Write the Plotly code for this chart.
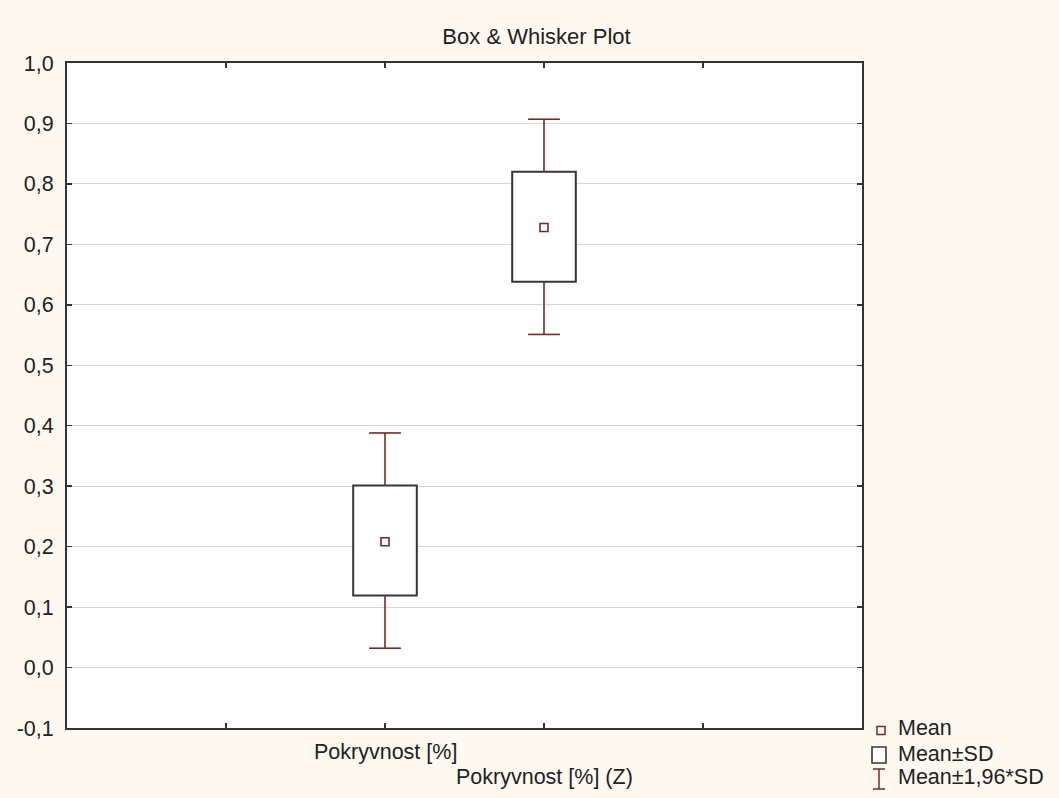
import plotly.graph_objects as go

# ---- data ----
categories = ["Pokryvnost [%]", "Pokryvnost [%] (Z)"]
mean_vals = [0.208, 0.728]
sd_low = [0.119, 0.638]
sd_high = [0.301, 0.820]
ci_low = [0.032, 0.551]
ci_high = [0.388, 0.907]
y_tick_vals = [-0.1, 0.0, 0.1, 0.2, 0.3, 0.4, 0.5, 0.6, 0.7, 0.8, 0.9, 1.0]
y_tick_text = ["-0,1", "0,0", "0,1", "0,2", "0,3", "0,4", "0,5", "0,6", "0,7", "0,8", "0,9", "1,0"]
x_tick_vals = [0, 1, 2, 3]
legend_labels = ["Mean", "Mean\u00b1SD", "Mean\u00b11,96*SD"]

# ---- style ----
W, H = 1059, 798
L, R, T, B = 67, 197, 63, 70
PAPER = "#fdf9f0"
MAROON = "#7d2626"
BOXC = "#363636"
FRAME = "#333333"
TXT = "#222222"
FONT = "Liberation Sans, Arial, sans-serif"
FS = 21.5
BOX_W = 0.4
CAP = 0.1

xpos = [i + 1 for i in range(len(categories))]

fig = go.Figure()

# boxes (mean ± SD)
fig.add_trace(go.Bar(
    x=xpos, y=[h - l for h, l in zip(sd_high, sd_low)], base=sd_low,
    width=BOX_W, marker=dict(color="white", line=dict(color=BOXC, width=2)),
    showlegend=False, hoverinfo="skip"))

# whiskers (mean ± 1.96 SD)
wx, wy = [], []
for x, sl, sh, cl, ch in zip(xpos, sd_low, sd_high, ci_low, ci_high):
    wx += [x, x, None, x, x, None, x - CAP, x + CAP, None, x - CAP, x + CAP, None]
    wy += [sh, ch, None, cl, sl, None, ch, ch, None, cl, cl, None]
fig.add_trace(go.Scatter(x=wx, y=wy, mode="lines",
                         line=dict(color=MAROON, width=1.6),
                         showlegend=False, hoverinfo="skip"))

# means
fig.add_trace(go.Scatter(x=xpos, y=mean_vals, mode="markers",
                         marker=dict(symbol="square-open", size=8, color=MAROON,
                                     line=dict(color=MAROON, width=1.6)),
                         showlegend=False))

# category labels (staggered)
annotations = []
label_y_px = [752, 777]
for i, (x, lab) in enumerate(zip(xpos, categories)):
    annotations.append(dict(
        x=x, xref="x", y=(H - B - label_y_px[i % 2]) / (H - T - B), yref="paper",
        text=lab, showarrow=False, xanchor="center", yanchor="middle",
        font=dict(family=FONT, size=FS, color=TXT)))

# custom legend
def px(xp):
    return (xp - L) / (W - L - R)

def py(yp):
    return (H - B - yp) / (H - T - B)

shapes = []
# Mean: small square
shapes.append(dict(type="rect", xref="paper", yref="paper",
                   x0=px(877), x1=px(885), y0=py(734.5), y1=py(726.5),
                   line=dict(color=MAROON, width=1.5), fillcolor="white"))
# Mean±SD: bigger box
shapes.append(dict(type="rect", xref="paper", yref="paper",
                   x0=px(872), x1=px(886), y0=py(763), y1=py(747),
                   line=dict(color=BOXC, width=1.6), fillcolor="white"))
# Mean±1,96*SD: I-beam
shapes.append(dict(type="line", xref="paper", yref="paper",
                   x0=px(879), x1=px(879), y0=py(769), y1=py(789),
                   line=dict(color=MAROON, width=1.5)))
shapes.append(dict(type="line", xref="paper", yref="paper",
                   x0=px(873), x1=px(885), y0=py(769), y1=py(769),
                   line=dict(color=MAROON, width=1.5)))
shapes.append(dict(type="line", xref="paper", yref="paper",
                   x0=px(873), x1=px(885), y0=py(789), y1=py(789),
                   line=dict(color=MAROON, width=1.5)))

leg_y_px = [728, 754, 777]
for lab, yy in zip(legend_labels, leg_y_px):
    annotations.append(dict(x=px(896), xref="paper", y=py(yy), yref="paper",
                            text=lab, showarrow=False, xanchor="left", yanchor="middle",
                            font=dict(family=FONT, size=FS, color=TXT)))

fig.update_layout(
    width=W, height=H,
    margin=dict(l=L, r=R, t=T, b=B, pad=0),
    paper_bgcolor=PAPER, plot_bgcolor="white",
    font=dict(family=FONT, size=FS, color=TXT),
    title=dict(text="Box & Whisker Plot", xref="container", yref="container",
               x=536.5 / W, xanchor="center", y=1 - 36 / H, yanchor="middle",
               font=dict(family=FONT, size=22, color=TXT)),
    showlegend=False,
    bargap=0,
    annotations=annotations,
    shapes=shapes,
    xaxis=dict(range=[-1, 4], tickvals=x_tick_vals, showticklabels=False,
               ticks="inside", ticklen=5, tickwidth=1.5, tickcolor=FRAME,
               showline=True, linecolor=FRAME, linewidth=2, mirror="ticks",
               showgrid=False, zeroline=False, fixedrange=True),
    yaxis=dict(range=[-0.1, 1.0], tickvals=y_tick_vals, ticktext=y_tick_text,
               ticks="inside", ticklen=5, tickwidth=1.5, tickcolor=FRAME,
               ticklabelstandoff=7,
               showline=True, linecolor=FRAME, linewidth=2, mirror="ticks",
               showgrid=True, gridcolor="#d6d6d6", gridwidth=1,
               zeroline=False, fixedrange=True,
               tickfont=dict(family=FONT, size=FS, color=TXT)),
)

fig.write_html("out.html",
               config={"displayModeBar": False, "staticPlot": True},
               post_script="document.body.style.margin='0';document.body.style.overflow='hidden';")
